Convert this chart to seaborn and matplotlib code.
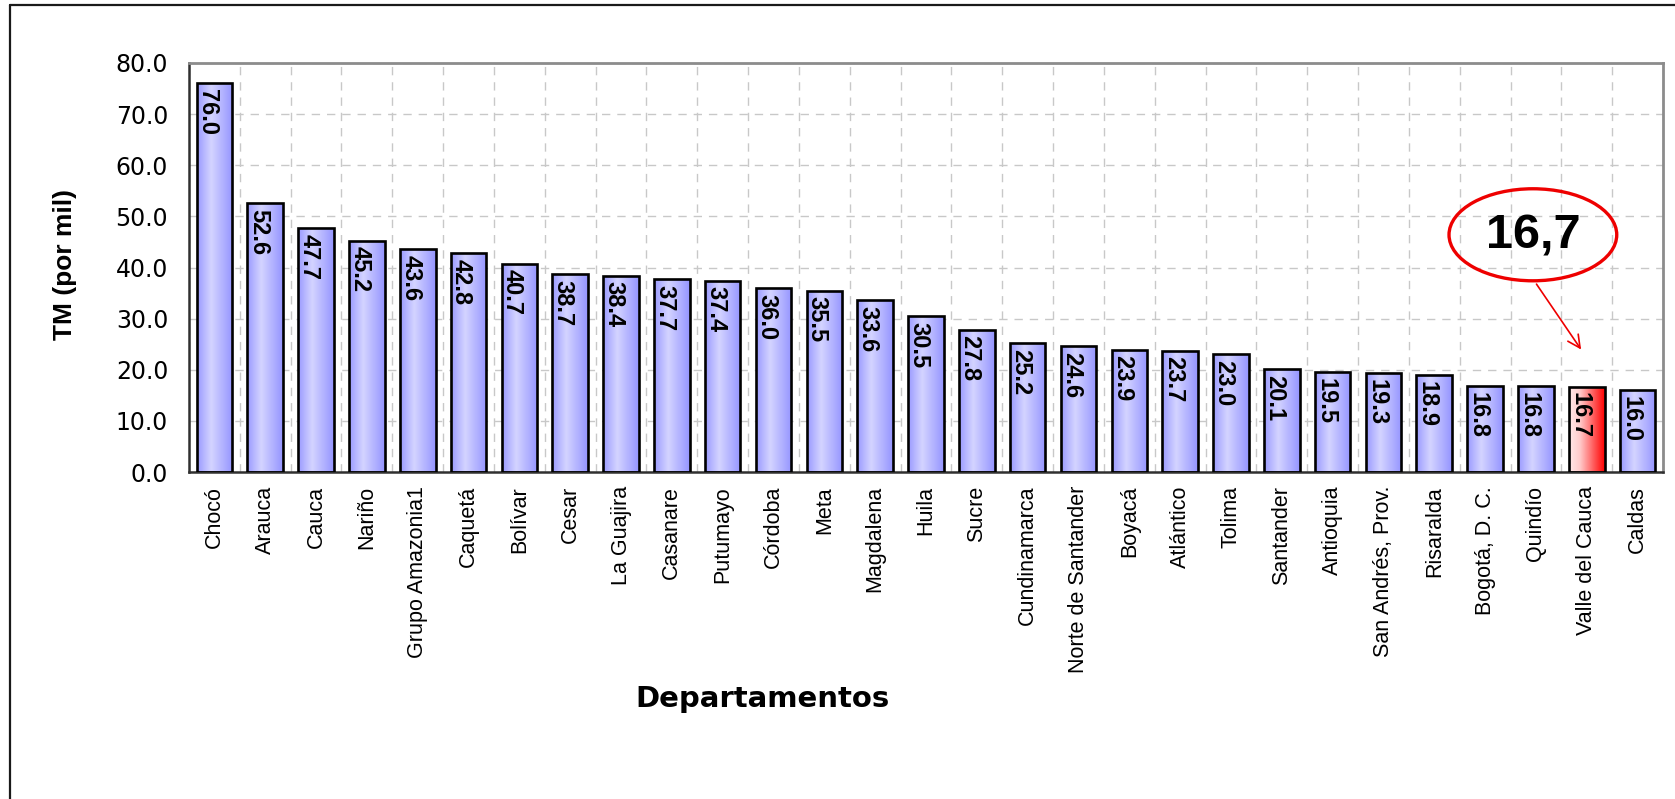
import numpy as np
import pandas as pd
import matplotlib
matplotlib.use("Agg")
import matplotlib.pyplot as plt
import seaborn as sns
from matplotlib.colors import LinearSegmentedColormap
from matplotlib.patches import Ellipse
from matplotlib.lines import Line2D
from matplotlib.ticker import FixedLocator, FormatStrFormatter

departamentos = [
    "Chocó", "Arauca", "Cauca", "Nariño", "Grupo Amazonia1", "Caquetá",
    "Bolívar", "Cesar", "La Guajira", "Casanare", "Putumayo", "Córdoba",
    "Meta", "Magdalena", "Huila", "Sucre", "Cundinamarca",
    "Norte de Santander", "Boyacá", "Atlántico", "Tolima", "Santander",
    "Antioquia", "San Andrés, Prov.", "Risaralda", "Bogotá, D. C.",
    "Quindío", "Valle del Cauca", "Caldas",
]
tm_por_mil = [
    76.0, 52.6, 47.7, 45.2, 43.6, 42.8, 40.7, 38.7, 38.4, 37.7, 37.4, 36.0,
    35.5, 33.6, 30.5, 27.8, 25.2, 24.6, 23.9, 23.7, 23.0, 20.1, 19.5, 19.3,
    18.9, 16.8, 16.8, 16.7, 16.0,
]
destacado = "Valle del Cauca"
y_ticks = [0, 10, 20, 30, 40, 50, 60, 70, 80]

df = pd.DataFrame({"dep": departamentos, "tm": tm_por_mil})

sns.set_style("white")
plt.rcParams["font.family"] = ["Liberation Sans", "DejaVu Sans"]
plt.rcParams["text.color"] = "black"
plt.rcParams["axes.labelcolor"] = "black"
plt.rcParams["xtick.color"] = "black"
plt.rcParams["ytick.color"] = "black"

W, H = 1675, 799
fig = plt.figure(figsize=(W / 100, H / 100), dpi=100)
ax = fig.add_axes([189 / W, 1 - 472 / H, (1663 - 189) / W, (472 - 63) / H])

sns.barplot(data=df, x="dep", y="tm", order=departamentos, width=0.7,
            color="white", edgecolor="black", linewidth=1.9, ax=ax,
            zorder=3)

azul = LinearSegmentedColormap.from_list(
    "azul", [(0, "#9a9aff"), (0.4, "#d4d4ff"), (1, "#9494ff")])
rojo = LinearSegmentedColormap.from_list(
    "rojo", [(0, "#ffeaea"), (0.3, "#ffcccc"), (1, "#ff0000")])
grad = np.linspace(0, 1, 256).reshape(1, -1)

for name, val, bar in zip(departamentos, tm_por_mil, ax.patches):
    bar.set_facecolor("none")
    x0 = bar.get_x()
    x1 = x0 + bar.get_width()
    cmap = rojo if name == destacado else azul
    im = ax.imshow(grad, cmap=cmap, extent=[x0, x1, 0, val], aspect="auto",
                   zorder=2.5, interpolation="bilinear")
    im.set_clip_path(bar)
    ax.annotate(f"{val:.1f}", xy=(x0 + bar.get_width() / 2, val),
                xytext=(-5, -4), textcoords="offset points", rotation=270,
                ha="center", va="top", fontsize=17, fontweight="bold",
                color="black", zorder=4)

n = len(departamentos)
ax.set_xlim(-0.5, n - 0.5)
ax.set_ylim(0, 80)
ax.set_yticks(y_ticks)
ax.yaxis.set_major_formatter(FormatStrFormatter("%.1f"))
ax.tick_params(axis="y", which="major", direction="out", length=6,
               width=1.2, color="#404040", labelsize=17, pad=9)
for lab in ax.get_yticklabels():
    lab.set_family("DejaVu Sans")

ax.set_xticks(range(n))
ax.set_xticklabels(departamentos, rotation=90, fontsize=15.5)
ax.tick_params(axis="x", which="major", length=0, pad=10)
ax.xaxis.set_minor_locator(FixedLocator(np.arange(-0.5, n, 1.0)))
ax.tick_params(axis="x", which="minor", direction="out", length=6,
               width=1.0, color="#404040")

ax.set_axisbelow(True)
ax.grid(axis="y", which="major", color="#c8c8c8", linestyle=(0, (6, 5)),
        linewidth=1.0)
ax.grid(axis="x", which="minor", color="#c8c8c8", linestyle=(0, (6, 5)),
        linewidth=1.0)
ax.grid(axis="x", which="major", visible=False)

ax.set_xlabel("")
ax.set_ylabel("")
for side in ["left", "bottom"]:
    ax.spines[side].set_color("#303030")
    ax.spines[side].set_linewidth(1.8)
for side in ["top", "right"]:
    ax.spines[side].set_color("#8c8c8c")
    ax.spines[side].set_linewidth(2.0)

# callout for the highlighted department
i = departamentos.index(destacado)
v = tm_por_mil[i]
ax.add_patch(Ellipse((i - 1.06, v + 29.7), 3.3, 18.0, fill=False,
                     edgecolor="#ee0000", linewidth=2.4, zorder=5,
                     clip_on=False))
ax.text(i - 1.06, v + 29.4, f"{v:.1f}".replace(".", ","), ha="center",
        va="center", fontsize=35, fontweight="bold", zorder=6)
ax.annotate("", xy=(i - 0.08, v + 6.8), xytext=(i - 1.02, v + 20.5),
            arrowprops=dict(arrowstyle="->,head_length=0.9,head_width=0.45",
                            color="#ee0000", linewidth=1.2), zorder=6)

fig.text(65 / W, 1 - 265 / H, "TM (por mil)", rotation=90, ha="center",
         va="center", fontsize=19, fontweight="bold")
fig.text(762 / W, 1 - 699 / H, "Departamentos", ha="center", va="center",
         fontsize=21, fontweight="bold", family="DejaVu Sans")

fig.add_artist(Line2D([10 / W, 10 / W], [0, 1 - 5 / H],
                      transform=fig.transFigure, color="#1a1a1a",
                      linewidth=1.6))
fig.add_artist(Line2D([10 / W, 1], [1 - 5 / H, 1 - 5 / H],
                      transform=fig.transFigure, color="#1a1a1a",
                      linewidth=1.6))

fig.savefig("out.png", dpi=100, facecolor="white")
